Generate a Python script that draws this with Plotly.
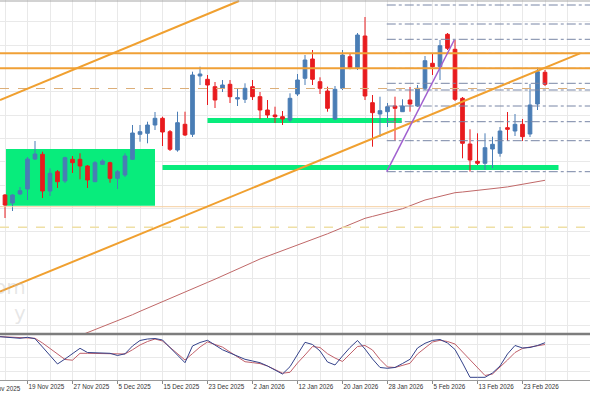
import datetime as dt
import plotly.graph_objects as go

# ---------------- data ----------------
dates = ["2025-11-13", "2025-11-14", "2025-11-17", "2025-11-18", "2025-11-19", "2025-11-20",
         "2025-11-21", "2025-11-24", "2025-11-25", "2025-11-26", "2025-11-27", "2025-11-28",
         "2025-12-01", "2025-12-02", "2025-12-03", "2025-12-04", "2025-12-05", "2025-12-08",
         "2025-12-09", "2025-12-10", "2025-12-11", "2025-12-12", "2025-12-15", "2025-12-16",
         "2025-12-17", "2025-12-18", "2025-12-19", "2025-12-22", "2025-12-23", "2025-12-24",
         "2025-12-26", "2025-12-29", "2025-12-30", "2025-12-31", "2026-01-02", "2026-01-05",
         "2026-01-06", "2026-01-07", "2026-01-08", "2026-01-09", "2026-01-12", "2026-01-13",
         "2026-01-14", "2026-01-15", "2026-01-16", "2026-01-19", "2026-01-20", "2026-01-21",
         "2026-01-22", "2026-01-23", "2026-01-26", "2026-01-27", "2026-01-28", "2026-01-29",
         "2026-01-30", "2026-02-02", "2026-02-03", "2026-02-04", "2026-02-05", "2026-02-06",
         "2026-02-09", "2026-02-10", "2026-02-11", "2026-02-12", "2026-02-13", "2026-02-16",
         "2026-02-17", "2026-02-18", "2026-02-19", "2026-02-20", "2026-02-23", "2026-02-24",
         "2026-02-25", "2026-02-26"]

opens = [128, 138, 130, 139, 144, 174, 178.7, 142, 161.3, 152, 173.7, 173.7, 167, 151.3, 168.7,
         170.3, 154.7, 158, 173.7, 198.7, 199.7, 208, 214.7, 201.3, 183, 208.7, 198.7, 257, 253.7,
         246.3, 244.7, 248.7, 234, 233.7, 246.3, 236.3, 223, 218, 216.3, 213, 239, 254.7, 274,
         251.3, 242, 214, 244.7, 276.3, 264.7, 297, 230.3, 219, 221.3, 227, 221.3, 233, 227, 244.7,
         269.7, 266.3, 298.7, 283.7, 234.7, 189, 171.7, 169.7, 184, 179.7, 205.3, 202, 208.7, 199,
         229, 260.7]
highs = [137, 139, 139, 146, 176, 192, 181.3, 164.7, 163, 176.3, 177, 179.7, 168, 172, 173.7,
         171.3, 163, 179.7, 208, 208, 211.3, 221, 216.3, 203, 221.3, 221.3, 261.3, 266.3, 258,
         251, 253, 253, 244.7, 249.7, 253, 241, 233, 226.3, 222, 239.7, 259, 278, 283, 255.7,
         246.3, 247, 283, 279.7, 300, 316, 238, 236.3, 230, 236.3, 233.7, 246, 248, 277, 279.7,
         293, 300, 293, 236, 203.7, 199.7, 199.7, 196.3, 206, 221, 219, 214, 249, 265.5, 263]
lows = [126, 115, 122, 138, 133, 173, 135, 137, 145, 150, 160, 153.7, 145, 151, 168, 150.3, 144,
        156, 173, 191.3, 189.7, 203, 187, 182, 181.3, 197, 196, 248, 228, 225, 241, 230, 227, 230,
        233, 214, 215, 210, 208, 211, 237, 248, 248, 239, 221.3, 213, 243, 263.7, 263, 233, 186.3,
        196, 206, 192.3, 221, 221.3, 226, 243, 258, 253, 283, 232, 174.7, 161.3, 168, 163, 165,
        176.3, 192, 197, 192, 196, 223, 247]
closes = [135, 128, 138, 142.3, 174, 179, 142, 159.7, 151.3, 175.3, 170.3, 167, 153, 170.3, 172,
          154.7, 161.3, 177, 200, 201.3, 208, 214.7, 201, 183.7, 210.3, 198, 258, 259, 248, 233,
          248, 236.3, 235.3, 244.7, 236.3, 223, 218, 216.3, 214, 234.7, 253, 273, 253.7, 244.7,
          224.7, 243.7, 278, 264.7, 298, 237, 220.3, 222.3, 226.3, 224.7, 227, 229, 244.7, 272.3,
          266.3, 287.3, 284.7, 233.7, 189.7, 173, 169.7, 185.3, 188.7, 202, 203.7, 208.7, 196.3,
          228, 261.3, 248.7]

# moving average, starts at bar 8
ma_values = [-8.5, -5.6, -2.7, 0.3, 3.2, 6.1, 9, 11.9, 15, 18.3, 21.7, 25, 28.2, 31.4, 34.6, 37.8,
             41, 44.2, 47.4, 50.6, 53.8, 57, 60.4, 63.8, 67.2, 70.6, 74, 76.9, 79.8, 82.7, 85.2,
             88.2, 91, 93.7, 96.4, 99.2, 102.3, 105.4, 108.5, 111.6, 114.7, 116.6, 118.5, 120.4,
             122.3, 124.3, 127.2, 130.1, 133, 134.8, 136.6, 138.5, 140.3, 141, 141.7, 142.4, 143.3,
             144.3, 145.2, 146.1, 147.5, 148.7, 150, 151.3, 152.7]
ma_start = 8

# stochastic oscillator (%K blue, %D red), from bar -1
stoch_k = [97.3, 96.2, 94.6, 93.3, 95.5, 92.4, 73.8, 54.8, 35.8, 47.0, 58.8, 70.9, 61.5, 60.8, 60.4,
           59.7, 54.8, 58.6, 76.1, 88.4, 91.7, 92.8, 89.5, 72.7, 55.9, 38.7, 76.1, 83.9, 88.8, 78.3,
           67.6, 60.4, 53.2, 46.3, 42.5, 38.7, 31.3, 22.4, 13.4, 29.8, 55.9, 84.3, 79.4, 64.9, 40.3,
           33.6, 53.7, 72.7, 88.4, 69.3, 47.0, 28.0, 26.2, 28.0, 36.9, 46.3, 71.6, 82.1, 88.6, 90.6,
           82.8, 68.2, 38.0, 6.0, 6.0, 6.0, 15.7, 31.3, 58.2, 77.2, 71.6, 72.7, 77.2, 83.4]
stoch_d = [97.3, 96.2, 95.5, 94.8, 94.0, 93.3, 82.8, 70.0, 56.8, 45.9, 44.3, 59.7, 59.7, 59.3, 58.6,
           58.2, 58.2, 58.2, 67.6, 78.3, 86.1, 91.7, 87.2, 73.4, 59.3, 44.7, 59.1, 73.8, 85.2, 79.4,
           73.6, 62.6, 51.5, 40.9, 38.9, 36.7, 31.3, 23.5, 15.2, 17.2, 38.0, 56.0, 74.9, 72.7, 58.8,
           49.2, 41.4, 58.2, 74.9, 77.2, 67.1, 45.9, 29.1, 28.0, 32.9, 37.4, 58.2, 72.7, 85.0, 88.8,
           86.1, 80.5, 62.6, 44.7, 26.8, 10.1, 13.4, 28.0, 44.7, 61.5, 70.7, 73.8, 76.5, 79.4]

# analyst drawings (bar index, price)
hlines_solid = [279.7, 264.7]
hline_dashed = 244.5
hline_pale = 126.3
hline_pale_dashed = 105.7
trend_upper = [(-0.667, 233.0), (31.2, 332.0)]
trend_lower = [(-0.667, 41.3), (76.67, 279.7)]
purple_leg = [(50.9, 161.3), (59.9, 293.0)]
fib_start = 50.9
fib_levels = [328, 309, 293.7, 279.7, 264.7, 249.7, 243, 227, 211.3, 192.3, 161.3]
green_box = (0.13, 184.0, 20.0, 127.3)      # x0, y0, x1, y1
green_lines = [(27.0, 52.9, 212.5), (21.0, 73.8, 165.5)]

first_bar = -1
label_bars = list(range(-3, 73, 6))
label_names = ["11 Nov 2025"]  # first, partly hidden label (before the first bar)
watermark = "com<br>y"
# -----------------------------------------

BLUE = "#4a7db5"
RED = "#e81b1e"
GRID = "#e9e9e9"
FONT = "Liberation Sans"
TICK_SIZE = 6.3

bars = list(range(first_bar, first_bar + len(dates)))


def fmt(d):
    t = dt.date.fromisoformat(d)
    return f"{t.day} {t.strftime('%b %Y')}"


X0, X1 = -0.667, 78.0
H_PLOT = 380.0
W = 590.0
main_dom = [(H_PLOT - 333) / H_PLOT, 1]
osc_dom = [0, (H_PLOT - 335.3) / H_PLOT]


def bar_to_paper(b):
    return (b - X0) / (X1 - X0)


fig = go.Figure()
fig.add_trace(go.Candlestick(
    x=bars, open=opens, high=highs, low=lows, close=closes,
    increasing=dict(line=dict(color=BLUE, width=1), fillcolor=BLUE),
    decreasing=dict(line=dict(color=RED, width=1), fillcolor=RED),
    whiskerwidth=0, hoverinfo="skip", showlegend=False, xaxis="x", yaxis="y"))
fig.add_trace(go.Scatter(
    x=list(range(ma_start, ma_start + len(ma_values))), y=ma_values, mode="lines",
    line=dict(color="#c06868", width=1), hoverinfo="skip", showlegend=False,
    xaxis="x", yaxis="y"))
fig.add_trace(go.Scatter(
    x=bars, y=stoch_d, mode="lines", line=dict(color="#c0606a", width=1),
    hoverinfo="skip", showlegend=False, xaxis="x2", yaxis="y2"))
fig.add_trace(go.Scatter(
    x=bars, y=stoch_k, mode="lines", line=dict(color="#34428a", width=1),
    hoverinfo="skip", showlegend=False, xaxis="x2", yaxis="y2"))

shapes = []
shapes.append(dict(type="rect", xref="x", yref="y", x0=green_box[0], x1=green_box[2],
                   y0=green_box[1], y1=green_box[3], fillcolor="#08ec7c",
                   line=dict(width=0), layer="between"))
for a, b, lvl in green_lines:
    shapes.append(dict(type="line", xref="x", yref="y", x0=a, x1=b, y0=lvl, y1=lvl,
                       line=dict(color="#08ec7c", width=5), layer="between"))
for lvl in fib_levels:
    shapes.append(dict(type="line", xref="x", yref="y", x0=fib_start, x1=X1, y0=lvl, y1=lvl,
                       line=dict(color="#7886a6", width=1, dash="dashdot")))
shapes.append(dict(type="line", xref="paper", yref="y", x0=0, x1=1, y0=hline_pale,
                   y1=hline_pale, line=dict(color="#f6cfa0", width=1)))
shapes.append(dict(type="line", xref="paper", yref="y", x0=0, x1=1, y0=hline_pale_dashed,
                   y1=hline_pale_dashed, line=dict(color="#efe0a6", width=1.5, dash="dash")))
shapes.append(dict(type="line", xref="paper", yref="y", x0=0, x1=1, y0=hline_dashed,
                   y1=hline_dashed, line=dict(color="#dcae78", width=1, dash="dash")))
for lvl in hlines_solid:
    shapes.append(dict(type="line", xref="paper", yref="y", x0=0, x1=1, y0=lvl, y1=lvl,
                       line=dict(color="#f0a036", width=2)))
for seg, col, w in [(trend_upper, "#f0a030", 2), (trend_lower, "#f0a030", 2),
                    (purple_leg, "#a060d0", 1.5)]:
    shapes.append(dict(type="line", xref="x", yref="y", x0=seg[0][0], y0=seg[0][1],
                       x1=seg[1][0], y1=seg[1][1], line=dict(color=col, width=w)))
shapes.append(dict(type="line", xref="paper", yref="paper", x0=0, x1=1,
                   y0=(H_PLOT - 334) / H_PLOT, y1=(H_PLOT - 334) / H_PLOT,
                   line=dict(color="#7d7d7d", width=2.5)))
shapes.append(dict(type="line", xref="paper", yref="paper", x0=0, x1=1,
                   y0=(H_PLOT - 1) / H_PLOT, y1=(H_PLOT - 1) / H_PLOT,
                   line=dict(color="#a5a5a5", width=1)))

annotations = [
    dict(xref="paper", yref="paper", x=bar_to_paper(label_bars[0]), y=0, yshift=-3,
         yanchor="top", xanchor="left", text=label_names[0], showarrow=False,
         font=dict(family=FONT, size=TICK_SIZE, color="#333333")),
    dict(xref="paper", yref="y", x=28 / W, y=33, xanchor="right", yanchor="middle",
         text=watermark, showarrow=False, align="right",
         font=dict(family="DejaVu Sans", size=20, color="rgba(185,185,185,0.35)")),
]

vis_labels = [b for b in label_bars if b >= first_bar]

fig.update_layout(
    width=590, height=393,
    margin=dict(l=0, r=0, t=0, b=13, pad=0),
    paper_bgcolor="white", plot_bgcolor="white",
    showlegend=False,
    shapes=shapes, annotations=annotations,
    xaxis=dict(domain=[0, 1], range=[X0, X1], anchor="y", showticklabels=False,
               showgrid=True, gridcolor=GRID, gridwidth=1, tick0=0, dtick=3,
               zeroline=False, rangeslider=dict(visible=False), fixedrange=True),
    yaxis=dict(domain=main_dom, range=[0, 333], showticklabels=False, showgrid=True,
               gridcolor=GRID, tick0=78, dtick=23.333, zeroline=False, fixedrange=True),
    xaxis2=dict(domain=[0, 1], range=[X0, X1], anchor="y2", matches="x",
                tickmode="array", tickvals=vis_labels,
                ticktext=[fmt(dates[b - first_bar]) for b in vis_labels],
                ticks="outside", ticklen=3, tickcolor="#8a8a8a", tickangle=0,
                ticklabelposition="outside right", automargin=False,
                tickfont=dict(family=FONT, size=TICK_SIZE, color="#333333"),
                showline=True, linecolor="#9a9a9a", linewidth=1,
                showgrid=True, gridcolor=GRID,
                minor=dict(tickvals=list(range(0, 79, 3)), showgrid=True, gridcolor=GRID,
                           ticks=""),
                zeroline=False, fixedrange=True),
    yaxis2=dict(domain=osc_dom, range=[0, 100], showticklabels=False,
                tickvals=[20, 50, 80], showgrid=True, gridcolor=GRID, zeroline=False,
                fixedrange=True),
)

fig.write_html("out.html", config={"displayModeBar": False},
               post_script="document.body.style.margin='0';document.body.style.overflow='hidden';")
